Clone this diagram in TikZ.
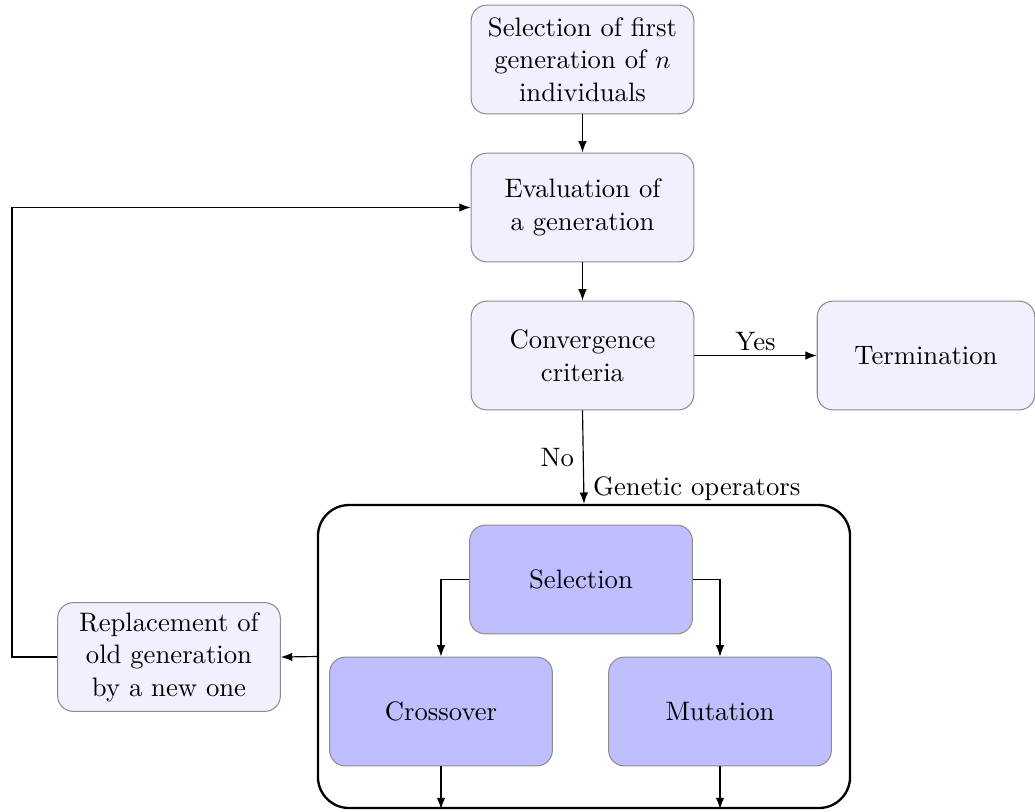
\documentclass[tikz,border=0pt]{standalone}
\usetikzlibrary{arrows.meta}
\begin{document}
\begin{tikzpicture}[x=0.3862pt,y=-0.3862pt,
  font=\fontsize{10.3}{12.6}\selectfont,
  box/.style={draw=black!45, fill=blue!6, rounded corners=6pt, minimum width=86pt, minimum height=42pt, align=center, inner sep=0pt},
  opbox/.style={box, fill=blue!25},
  container/.style={draw=black, line width=0.9pt, rounded corners=12pt, minimum width=205.5pt, minimum height=117pt, inner sep=0pt},
  arr/.style={-{Latex[length=4.4pt,width=3.3pt]}, draw=black, line width=0.45pt}]
\useasboundingbox (0,0) rectangle (1035,811);
\node[box] (init) at (582.5,59.5) {Selection of first\\generation of $n$\\individuals};
\node[box] (eval) at (582.5,207.5) {Evaluation of\\a generation};
\node[box] (conv) at (582.5,355.5) {Convergence\\criteria};
\node[box, minimum width=84pt] (term) at (926,355.5) {Termination};
\node[container] (ops) at (584,656.5) {};
\node[opbox] (sel) at (581,579.5) {Selection};
\node[opbox] (cross) at (441,711.5) {Crossover};
\node[opbox] (mut) at (720,711.5) {Mutation};
\node[box] (repl) at (169,657) {Replacement of\\old generation\\by a new one};
\node[anchor=west] (golabel) at (584,489) {Genetic operators};
\coordinate (loop) at (12,657);
\draw[arr] (init) -- (eval);
\draw[arr] (eval) -- (conv);
\draw[arr] (conv) -- node[above, inner sep=1.5pt] {Yes} (term);
\draw[arr] (conv.south) -- node[left] {No} (ops.north);
\draw[arr] (sel.west) -| (cross.north);
\draw[arr] (sel.east) -| (mut.north);
\draw[arr] (cross.south) -- (cross.south |- ops.south);
\draw[arr] (mut.south) -- (mut.south |- ops.south);
\draw[arr] (ops.west) -- (repl.east);
\draw[arr] (repl.west) -- (loop) |- (eval.west);
\end{tikzpicture}
\end{document}
